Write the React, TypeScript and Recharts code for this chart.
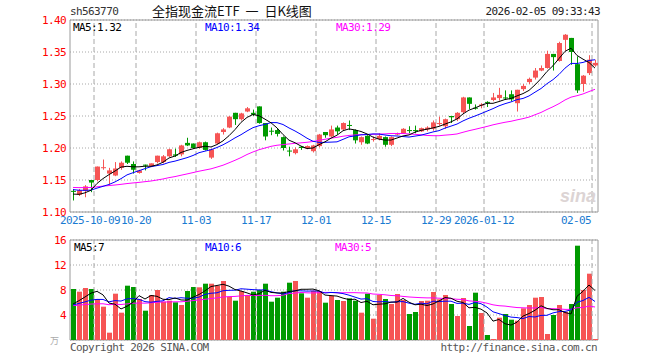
import React from "react";
import {
  ComposedChart,
  Bar,
  Line,
  XAxis,
  YAxis,
  CartesianGrid,
  ReferenceLine,
  ReferenceArea,
} from "recharts";

const RED = "#f65555";
const GREEN = "#009a00";
const GRID = "#a8a8a8";
const FRAME = "#9a9a9a";
const MONO = "'DejaVu Sans Mono', monospace";

// trading days shown, one candle each
const dates = [
  "2025-09-25", "2025-09-26", "2025-09-29", "2025-09-30",
  "2025-10-09", "2025-10-10", "2025-10-13", "2025-10-14", "2025-10-15", "2025-10-16", "2025-10-17",
  "2025-10-20", "2025-10-21", "2025-10-22", "2025-10-23", "2025-10-24",
  "2025-10-27", "2025-10-28", "2025-10-29", "2025-10-30", "2025-10-31",
  "2025-11-03", "2025-11-04", "2025-11-05", "2025-11-06", "2025-11-07",
  "2025-11-10", "2025-11-11", "2025-11-12", "2025-11-13", "2025-11-14",
  "2025-11-17", "2025-11-18", "2025-11-19", "2025-11-20", "2025-11-21",
  "2025-11-24", "2025-11-25", "2025-11-26", "2025-11-27", "2025-11-28",
  "2025-12-01", "2025-12-02", "2025-12-03", "2025-12-04", "2025-12-05",
  "2025-12-08", "2025-12-09", "2025-12-10", "2025-12-11", "2025-12-12",
  "2025-12-15", "2025-12-16", "2025-12-17", "2025-12-18", "2025-12-19",
  "2025-12-22", "2025-12-23", "2025-12-24", "2025-12-25", "2025-12-26",
  "2025-12-29", "2025-12-30", "2025-12-31",
  "2026-01-05", "2026-01-06", "2026-01-07", "2026-01-08", "2026-01-09",
  "2026-01-12", "2026-01-13", "2026-01-14", "2026-01-15", "2026-01-16",
  "2026-01-19", "2026-01-20", "2026-01-21", "2026-01-22", "2026-01-23",
  "2026-01-26", "2026-01-27", "2026-01-28", "2026-01-29", "2026-01-30",
  "2026-02-02", "2026-02-03", "2026-02-04", "2026-02-05",
];

const opens = [
  1.133, 1.127, 1.133, 1.150, 1.150, 1.169, 1.160, 1.157, 1.169, 1.188,
  1.175, 1.161, 1.174, 1.172, 1.178, 1.178, 1.187, 1.190, 1.190, 1.208,
  1.207, 1.200, 1.209, 1.185, 1.207, 1.225, 1.232, 1.255, 1.245, 1.257,
  1.255, 1.265, 1.239, 1.227, 1.228, 1.217, 1.196, 1.192, 1.202, 1.199,
  1.195, 1.203, 1.225, 1.218, 1.232, 1.229, 1.236, 1.228, 1.209, 1.219,
  1.213, 1.214, 1.217, 1.205, 1.221, 1.223, 1.228, 1.228, 1.226, 1.229,
  1.230, 1.238, 1.234, 1.250, 1.245, 1.256, 1.279, 1.263, 1.266, 1.272,
  1.275, 1.278, 1.279, 1.284, 1.270, 1.292, 1.303, 1.310, 1.321, 1.325,
  1.347, 1.336, 1.369, 1.372, 1.331, 1.300, 1.317, 1.329,
];

const highs = [
  1.136, 1.136, 1.142, 1.150, 1.171, 1.182, 1.169, 1.178, 1.179, 1.188,
  1.179, 1.166, 1.174, 1.176, 1.188, 1.189, 1.199, 1.199, 1.205, 1.216,
  1.207, 1.210, 1.210, 1.199, 1.224, 1.231, 1.250, 1.255, 1.255, 1.264,
  1.260, 1.265, 1.239, 1.232, 1.231, 1.218, 1.202, 1.201, 1.203, 1.204,
  1.205, 1.222, 1.225, 1.235, 1.235, 1.240, 1.243, 1.229, 1.218, 1.220,
  1.218, 1.223, 1.218, 1.218, 1.224, 1.231, 1.234, 1.235, 1.232, 1.234,
  1.243, 1.249, 1.246, 1.250, 1.256, 1.280, 1.279, 1.268, 1.270, 1.273,
  1.286, 1.294, 1.290, 1.290, 1.291, 1.300, 1.310, 1.325, 1.329, 1.352,
  1.347, 1.366, 1.378, 1.372, 1.343, 1.314, 1.345, 1.338,
];

const lows = [
  1.118, 1.125, 1.123, 1.131, 1.148, 1.166, 1.143, 1.156, 1.166, 1.175,
  1.160, 1.160, 1.165, 1.171, 1.176, 1.176, 1.186, 1.186, 1.187, 1.203,
  1.199, 1.199, 1.196, 1.183, 1.206, 1.221, 1.231, 1.236, 1.243, 1.256,
  1.250, 1.238, 1.212, 1.220, 1.218, 1.196, 1.187, 1.190, 1.197, 1.198,
  1.193, 1.201, 1.216, 1.217, 1.221, 1.228, 1.228, 1.207, 1.205, 1.206,
  1.210, 1.212, 1.202, 1.203, 1.220, 1.222, 1.223, 1.223, 1.225, 1.226,
  1.227, 1.235, 1.230, 1.239, 1.242, 1.253, 1.261, 1.260, 1.262, 1.264,
  1.273, 1.274, 1.275, 1.273, 1.257, 1.289, 1.300, 1.307, 1.320, 1.324,
  1.321, 1.335, 1.352, 1.330, 1.286, 1.288, 1.314, 1.327,
];

const closes = [
  1.132, 1.134, 1.140, 1.146, 1.171, 1.170, 1.165, 1.168, 1.177, 1.177,
  1.166, 1.165, 1.173, 1.176, 1.188, 1.187, 1.198, 1.188, 1.204, 1.204,
  1.200, 1.209, 1.197, 1.198, 1.223, 1.229, 1.249, 1.245, 1.254, 1.262,
  1.252, 1.239, 1.218, 1.226, 1.222, 1.200, 1.195, 1.198, 1.200, 1.203,
  1.204, 1.221, 1.220, 1.229, 1.226, 1.239, 1.235, 1.212, 1.217, 1.207,
  1.214, 1.219, 1.205, 1.217, 1.223, 1.230, 1.227, 1.227, 1.231, 1.232,
  1.240, 1.239, 1.245, 1.248, 1.255, 1.279, 1.269, 1.262, 1.268, 1.271,
  1.279, 1.283, 1.278, 1.276, 1.291, 1.297, 1.308, 1.321, 1.325, 1.347,
  1.342, 1.364, 1.377, 1.350, 1.290, 1.313, 1.338, 1.333,
];

// volume, 万手
const volumes = [
  8.16, 7.73, 8.32, 8.16, 6.56, 5.33, 1.17, 7.41, 4.37, 8.69,
  8.48, 6.56, 4.69, 7.2, 8.0, 6.13, 6.29, 6.03, 5.6, 7.84,
  8.48, 8.43, 9.01, 9.01, 8.69, 9.44, 6.93, 6.29, 7.84, 7.2,
  7.73, 8.0, 9.01, 6.13, 6.77, 7.73, 9.17, 9.44, 7.47, 6.77,
  7.89, 7.84, 5.97, 7.04, 6.4, 6.24, 6.67, 6.29, 4.37, 7.41,
  3.41, 7.2, 6.56, 5.76, 7.36, 6.4, 4.16, 4.48, 6.24, 6.29,
  7.68, 6.51, 7.2, 5.76, 3.84, 6.72, 2.24, 7.57, 4.32, 0.8,
  0.16, 3.57, 4.16, 3.25, 3.09, 5.07, 5.6, 6.77, 6.88, 0.96,
  4.0, 5.6, 4.53, 5.76, 15.09, 8.0, 10.61, 0.16,
];

// days before the window, estimated from where the MA lines start
const priorCloses = [
  1.141, 1.139, 1.143, 1.138, 1.136, 1.140, 1.142, 1.145, 1.141, 1.137,
  1.139, 1.140, 1.144, 1.142, 1.138, 1.135, 1.139, 1.141, 1.143, 1.137,
  1.144, 1.141, 1.143, 1.140, 1.142, 1.136, 1.128, 1.126, 1.118,
];
const priorVolumes = [
  5.6, 5.2, 5.9, 5.4, 5.1, 5.7, 5.3, 5.5, 5.8, 5.2,
  5.4, 5.6, 5.3, 5.5, 5.1, 5.7, 5.4, 5.6, 5.2, 5.5,
  5.2, 5.8, 5.5, 5.3, 5.4, 5.03, 5.4, 5.1, 5.11,
];

const tickDates = [
  "2025-10-09", "2025-10-20", "2025-11-03", "2025-11-17", "2025-12-01",
  "2025-12-15", "2025-12-29", "2026-01-12", "2026-02-05",
];
const tickLabels = [
  "2025-10-09", "10-20", "11-03", "11-17", "12-01", "12-15", "12-29", "2026-01-12", "02-05",
];
const priceTicks = [1.1, 1.15, 1.2, 1.25, 1.3, 1.35, 1.4];
const volumeTicks = [4, 8, 12, 16];

function movingAvg(prior: number[], values: number[], n: number) {
  const all = [...prior, ...values];
  return values.map((_, i) => {
    const end = prior.length + i + 1;
    const win = all.slice(Math.max(0, end - n), end);
    return win.reduce((a, b) => a + b, 0) / win.length;
  });
}

const ma5 = movingAvg(priorCloses, closes, 5);
const ma10 = movingAvg(priorCloses, closes, 10);
const ma30 = movingAvg(priorCloses, closes, 30);
const vma5 = movingAvg(priorVolumes, volumes, 5);
const vma10 = movingAvg(priorVolumes, volumes, 10);
const vma30 = movingAvg(priorVolumes, volumes, 30);

const data = dates.map((date, i) => ({
  date,
  open: opens[i],
  high: highs[i],
  low: lows[i],
  close: closes[i],
  range: [lows[i], highs[i]],
  vol: volumes[i],
  ma5: ma5[i],
  ma10: ma10[i],
  ma30: ma30[i],
  vma5: vma5[i],
  vma10: vma10[i],
  vma30: vma30[i],
}));

function Candle(props: any) {
  const { x, y, width, height, payload } = props;
  const { open, close, high, low } = payload;
  const color = close >= open ? RED : GREEN;
  const top = Math.min(y, y + height);
  const h = Math.abs(height);
  const k = high - low > 0 ? h / (high - low) : 0;
  const bx = Math.floor(x);
  const bodyTop = top + (high - Math.max(open, close)) * k;
  const bodyH = Math.max(1, Math.abs(close - open) * k);
  const cx = bx + Math.floor(width / 2) + 0.5;
  return (
    <g>
      <line x1={cx} x2={cx} y1={top} y2={top + h} stroke={color} strokeWidth={1} />
      <rect x={bx} y={bodyTop} width={width} height={bodyH} fill={color} />
    </g>
  );
}

function VolumeBar(props: any) {
  const { x, y, width, height, payload } = props;
  const color = payload.close >= payload.open ? RED : GREEN;
  return <rect x={Math.floor(x)} y={y} width={width} height={Math.max(0, height)} fill={color} />;
}

function DateTick(props: any) {
  const { x, y, payload } = props;
  const i = tickDates.indexOf(payload.value);
  const last = i === tickDates.length - 1;
  const first = i === 0;
  return (
    <text
      x={last ? x - 4 : first ? x - 7 : x - 3}
      y={y + 10}
      textAnchor={last ? "end" : "middle"}
      fill="#1a7bd1"
      fontSize={11}
      fontFamily={MONO}
      letterSpacing={-0.6}
    >
      {tickLabels[i]}
    </text>
  );
}

const yTick = { fill: "#ff0000", fontSize: 11, fontFamily: MONO, letterSpacing: -0.6 };

const label = (left: number, top: number, color: string): React.CSSProperties => ({
  position: "absolute",
  left,
  top,
  color,
  fontFamily: MONO,
  fontSize: 11,
  letterSpacing: -0.6,
  lineHeight: "13px",
  whiteSpace: "nowrap",
});

export default function App() {
  return (
    <div
      style={{
        position: "absolute",
        left: 0,
        top: 0,
        width: 660,
        height: 360,
        background: "#fff",
        overflow: "hidden",
      }}
    >
      <span style={label(70, 5, "#333")}>sh563770</span>
      <span
        style={{
          position: "absolute",
          left: 152,
          top: 4,
          fontFamily: "'Noto Sans CJK SC', sans-serif",
          fontSize: 13,
          lineHeight: "14px",
          wordSpacing: 3,
          color: "#111",
          whiteSpace: "nowrap",
        }}
      >
        全指现金流ETF 一 日K线图
      </span>
      <span style={{ ...label(0, 5, "#222"), left: undefined, right: 60 }}>2026-02-05 09:33:43</span>

      <div style={{ position: "absolute", left: 0, top: 0 }}>
        <ComposedChart width={660} height={230} data={data} margin={{ top: 20, right: 62, bottom: 0, left: 0 }}>
          <CartesianGrid horizontal vertical={false} stroke={GRID} strokeDasharray="1 2" />
          <XAxis
            dataKey="date"
            ticks={tickDates}
            interval={0}
            height={18}
            tickSize={0}
            axisLine={false}
            tickLine={false}
            tick={<DateTick />}
          />
          <YAxis
            domain={[1.1, 1.4]}
            ticks={priceTicks}
            width={70}
            allowDataOverflow
            tickSize={0}
            tickMargin={4}
            axisLine={false}
            tickLine={false}
            tick={yTick}
            tickFormatter={(v: number) => v.toFixed(2)}
          />
          {tickDates.map((d) => (
            <ReferenceLine key={d} x={d} position="start" stroke={GRID} strokeDasharray="5 3" />
          ))}
          <ReferenceArea y1={1.1} y2={1.4} fill="none" stroke={FRAME} strokeWidth={1} />
          <Bar dataKey="range" barSize={5} shape={<Candle />} isAnimationActive={false} />
          <Line dataKey="ma30" stroke="#ff00ff" strokeWidth={1} dot={false} isAnimationActive={false} />
          <Line dataKey="ma10" stroke="#0000ff" strokeWidth={1} dot={false} isAnimationActive={false} />
          <Line dataKey="ma5" stroke="#000000" strokeWidth={1} dot={false} isAnimationActive={false} />
        </ComposedChart>
      </div>

      <div style={{ position: "absolute", left: 0, top: 230 }}>
        <ComposedChart width={660} height={130} data={data} margin={{ top: 10, right: 62, bottom: 20, left: 0 }}>
          <CartesianGrid horizontal vertical={false} stroke={GRID} strokeDasharray="1 2" />
          <XAxis dataKey="date" hide />
          <YAxis
            domain={[0, 16]}
            ticks={volumeTicks}
            width={70}
            allowDataOverflow
            tickSize={0}
            tickMargin={4}
            axisLine={false}
            tickLine={false}
            tick={yTick}
          />
          {tickDates.map((d) => (
            <ReferenceLine key={d} x={d} position="start" stroke={GRID} strokeDasharray="5 3" />
          ))}
          <ReferenceArea y1={0} y2={16} fill="none" stroke={FRAME} strokeWidth={1} />
          <Bar dataKey="vol" barSize={5} shape={<VolumeBar />} isAnimationActive={false} />
          <Line dataKey="vma30" stroke="#ff00ff" strokeWidth={1} dot={false} isAnimationActive={false} />
          <Line dataKey="vma10" stroke="#0000ff" strokeWidth={1} dot={false} isAnimationActive={false} />
          <Line dataKey="vma5" stroke="#000000" strokeWidth={1} dot={false} isAnimationActive={false} />
        </ComposedChart>
      </div>

      <span style={label(73, 21, "#000")}>MA5:1.32</span>
      <span style={label(205, 21, "#0000ff")}>MA10:1.34</span>
      <span style={label(336, 21, "#ff00ff")}>MA30:1.29</span>

      <span style={label(74, 241, "#000")}>MA5:7</span>
      <span style={label(205, 241, "#0000ff")}>MA10:6</span>
      <span style={label(335, 241, "#ff00ff")}>MA30:5</span>

      <span
        style={{
          position: "absolute",
          left: 560,
          top: 186,
          fontFamily: "'Liberation Sans', sans-serif",
          fontStyle: "italic",
          fontWeight: 700,
          fontSize: 18,
          color: "#dcd4d4",
        }}
      >
        sina
      </span>
      <span
        style={{
          position: "absolute",
          left: 50,
          top: 334,
          fontSize: 9,
          color: "#aaa",
          fontFamily: "'Noto Sans CJK SC', sans-serif",
        }}
      >
        万
      </span>
      <span style={label(70, 341, "#555")}>Copyright 2026 SINA.COM</span>
      <span style={{ ...label(0, 341, "#555"), left: undefined, right: 63 }}>http://finance.sina.com.cn</span>
    </div>
  );
}
